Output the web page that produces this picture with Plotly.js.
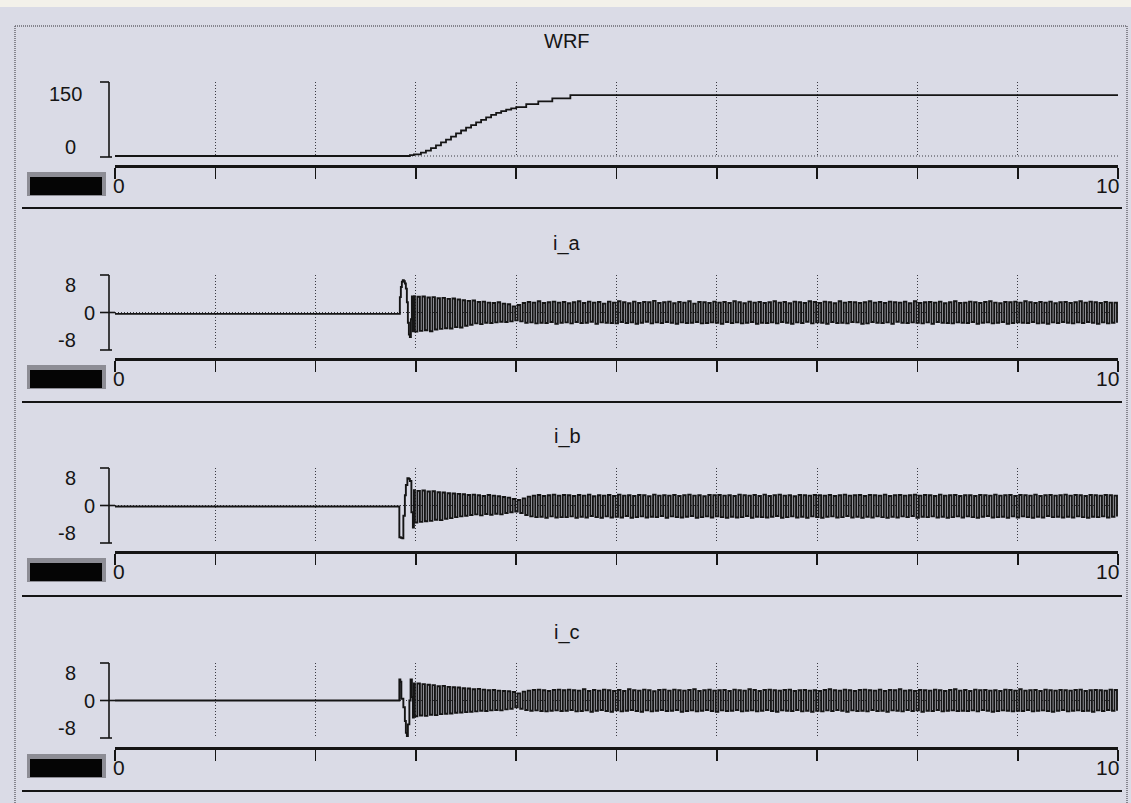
<!DOCTYPE html>
<html><head><meta charset="utf-8">
<script src="https://cdn.plot.ly/plotly-3.0.1.min.js"></script>
<style>html,body{margin:0;padding:0;background:#dadbe6;}#chart{width:1131px;height:803px;}</style>
</head><body><div id="chart"></div>
<script>
// ---------------- DATA ----------------
const panelTitles = ['WRF', 'i_a', 'i_b', 'i_c'];
const xTickLabels = ['0', '10'];
const xRange = [0, 10];
const wrfTickVals = [150, 0];
const currentTickVals = [8, 0, -8];

// WRF (speed reference) – staircase ramp
const wrfT = [0, 2.94, 2.98, 3.05, 3.1, 3.15, 3.2, 3.25, 3.3, 3.35, 3.4, 3.45, 3.5, 3.55, 3.6, 3.65, 3.7, 3.75, 3.8, 3.85, 3.9, 3.95, 4.0, 4.1, 4.22, 4.36, 4.54, 10];
const wrfV = [0, 2, 4, 8, 13, 19, 26, 33, 40, 47, 55, 62, 69, 75, 82, 88, 94, 100, 105, 109, 113, 116, 119, 126, 133, 140, 148, 148];

// start-up transients (explicit time / value)
const iaTransT = [0, 2.83, 2.84, 2.85, 2.86, 2.87, 2.88, 2.89, 2.9, 2.91, 2.92, 2.93, 2.94, 2.95, 2.96, 2.97, 2.98];
const iaTransV = [-0.4, -0.4, 4.5, 7.5, 9.0, 9.5, 9.2, 8.5, 7.0, 3.0, -3.0, -6.5, -7.2, -2.0, 4.7, -5.5, 4.8];
const ibTransT = [0, 2.83, 2.835, 2.85, 2.865, 2.875, 2.89, 2.9, 2.915, 2.93, 2.94, 2.955, 2.97, 2.98];
const ibTransV = [-0.3, -0.3, -9.3, -9.5, -9.6, -3, 3, 6, 8, 7.8, 7.2, -2, -6.5, 4.5];
const icTransT = [0, 2.83, 2.835, 2.845, 2.855, 2.875, 2.89, 2.9, 2.91, 2.92, 2.935, 2.947, 2.96, 2.97, 2.98];
const icTransV = [0, 0, 6.2, 5.5, 0.5, -2, -6, -9.5, -10.4, -7, 0, 6.2, 1, -5, 5];

// sampled oscillation after start-up: first sample time and sample spacing
const oscStart = 2.99;
const oscStep = 0.025;
const iaOsc = [
 -5.6,4.6,-5.4,4.7,-5.2,4.4,-5.5,4.5,-5.0,4.2,-4.8,4.3,-4.6,4.0,-4.7,4.1,-4.3,3.8,-4.4,
 3.6,-3.9,3.4,-3.6,3.5,-3.2,3.1,-3.4,3.2,-3.0,2.9,-3.1,2.8,-2.9,3.0,-2.7,2.6,-2.8,2.4,-2.6,
 1.8,-2.3,2.2,-2.6,2.8,-3.0,3.1,-2.9,2.9,-3.2,3.3,-3.0,2.8,-3.1,3.0,-2.8,3.2,-3.3,2.9,-3.0,
 3.1,-2.9,2.7,-3.2,3.0,-2.8,3.3,-3.1,2.8,-3.0,3.2,-2.7,2.9,-3.3,3.1,-2.9,2.6,-3.0,3.2,-3.1,
 2.9,-3.2,3.3,-2.8,3.0,-3.1,2.7,-2.9,3.2,-3.3,2.8,-3.0,3.1,-2.7,3.0,-3.2,3.4,-2.9,2.8,-3.1,
 3.0,-2.8,3.2,-3.0,2.7,-3.3,3.1,-2.9,2.9,-3.1,3.3,-3.0,2.6,-2.8,3.1,-3.2,3.0,-3.1,2.8,-2.9,
 3.2,-3.0,2.9,-3.3,3.1,-2.8,2.8,-3.1,3.3,-2.9,3.0,-3.2,2.7,-3.0,3.2,-2.8,2.9,-3.3,3.1,-3.0,
 2.8,-3.1,3.0,-2.9,3.3,-3.2,2.9,-2.8,3.1,-3.0,2.7,-3.3,3.2,-2.9,3.0,-3.1,2.8,-2.7,3.3,-3.2,
 3.1,-2.9,2.8,-3.0,3.2,-3.3,3.0,-2.8,2.7,-3.1,3.3,-3.0,2.9,-3.2,3.1,-2.8,3.0,-2.9,2.8,-3.3,
 3.0,-3.2,3.3,-2.8,2.9,-3.0,3.1,-3.1,2.8,-2.9,3.2,-3.3,3.0,-2.7,2.9,-3.0,3.2,-3.1,2.7,-2.9,
 3.3,-3.0,2.8,-3.2,3.0,-2.9,3.1,-3.3,2.9,-2.8,3.2,-3.0,2.7,-3.1,3.0,-3.2,3.3,-2.9,2.8,-3.0,
 2.9,-3.1,3.2,-2.8,3.0,-3.3,2.8,-3.0,3.1,-2.9,3.3,-3.2,2.9,-3.0,2.7,-2.8,3.1,-3.3,3.0,-3.1,
 3.2,-2.9,2.9,-3.0,3.3,-3.1,3.0,-2.8,2.8,-3.2,3.1,-3.0,2.9,-3.3,3.2,-2.9,2.7,-3.1,3.0,-2.8,
 3.1,-3.0,2.8,-3.2,3.0,-2.9,3.3,-3.1,2.9,-2.8,3.2,-3.0,3.0,-3.3,2.8,-2.9,3.1,-3.2,2.9,-3.0,
 2.9,-3.0];
const ibOsc = [
 -5.0,4.3,-4.8,4.4,-4.6,4.1,-4.5,4.2,-4.2,3.9,-4.3,3.8,-3.9,3.6,-3.7,3.5,-3.4,3.4,-3.2,3.3,
 -3.0,3.1,-2.8,3.2,-2.6,3.0,-2.9,2.8,-2.5,3.1,-2.7,2.9,-2.4,2.7,-2.6,2.5,-2.2,2.3,-2.0,1.9,
 -1.8,1.6,-2.2,2.1,-2.8,2.6,-3.2,2.9,-3.4,3.1,-3.3,2.8,-3.6,3.0,-3.2,3.2,-3.5,2.9,-3.4,3.1,
 -3.4,3.0,-3.2,2.8,-3.6,3.1,-3.3,2.9,-3.5,3.2,-3.1,2.7,-3.4,3.0,-3.6,2.9,-3.2,3.1,-3.5,2.8,
 -3.3,3.2,-3.5,2.9,-3.1,3.0,-3.6,2.8,-3.4,3.1,-3.2,3.0,-3.5,2.7,-3.3,3.2,-3.4,2.9,-3.1,3.0,
 -3.6,2.9,-3.2,3.1,-3.4,2.8,-3.5,3.0,-3.3,3.2,-3.1,2.9,-3.6,3.0,-3.4,2.7,-3.2,3.1,-3.5,3.0,
 -3.2,3.1,-3.4,2.9,-3.6,3.0,-3.3,2.8,-3.5,3.2,-3.4,3.0,-3.1,2.9,-3.6,3.1,-3.3,2.8,-3.4,3.2,
 -3.5,2.8,-3.3,3.0,-3.1,3.2,-3.6,2.9,-3.4,3.0,-3.2,2.7,-3.5,3.1,-3.3,3.0,-3.6,2.9,-3.2,3.1,
 -3.4,3.0,-3.6,2.9,-3.3,3.1,-3.2,2.8,-3.5,3.0,-3.4,3.2,-3.1,2.9,-3.5,3.0,-3.3,3.1,-3.6,2.8,
 -3.3,3.1,-3.5,3.0,-3.2,2.9,-3.4,3.2,-3.6,2.8,-3.3,3.0,-3.5,3.1,-3.2,2.9,-3.4,3.0,-3.1,3.2,
 -3.6,2.9,-3.3,3.1,-3.4,3.0,-3.2,2.8,-3.5,3.2,-3.3,2.9,-3.6,3.0,-3.4,3.1,-3.2,2.8,-3.5,3.0,
 -3.2,3.0,-3.4,2.8,-3.6,3.1,-3.3,3.0,-3.1,2.9,-3.5,3.2,-3.4,2.9,-3.3,3.0,-3.6,3.1,-3.2,2.8,
 -3.5,3.1,-3.2,3.0,-3.4,2.9,-3.6,3.2,-3.3,2.8,-3.5,3.0,-3.1,3.1,-3.4,2.9,-3.3,3.0,-3.5,3.2,
 -3.3,2.9,-3.5,3.1,-3.2,3.0,-3.4,2.8,-3.6,3.1,-3.3,3.0,-3.4,2.9,-3.2,3.1,-3.5,3.0,-3.3,2.9,
 -3.2];
const icOsc = [
 -4.6,5.0,-4.4,4.8,-4.5,4.6,-4.2,4.5,-4.3,4.2,-4.0,4.3,-3.9,4.0,-3.8,3.9,-3.6,3.8,-3.5,3.6,
 -3.4,3.5,-3.3,3.3,-3.2,3.4,-3.0,3.2,-3.1,3.0,-2.9,3.1,-2.8,2.9,-2.9,2.8,-2.6,2.7,-2.4,2.5,
 -2.0,2.1,-2.4,2.6,-2.8,2.9,-3.0,3.1,-2.9,3.2,-3.1,3.0,-3.2,2.8,-3.0,3.1,-2.9,3.2,-3.1,3.0,
 -3.0,3.2,-2.8,3.0,-3.2,2.9,-3.1,3.3,-2.9,2.8,-3.3,3.1,-3.0,2.9,-2.8,3.2,-3.1,3.0,-3.3,2.8,
 -2.9,3.1,-3.2,2.8,-3.0,3.3,-2.8,3.0,-3.1,2.9,-3.3,3.2,-2.9,3.0,-3.2,2.7,-3.0,3.1,-2.8,3.2,
 -3.1,2.9,-3.0,3.2,-2.8,3.0,-3.3,2.9,-3.1,3.1,-2.9,3.3,-3.2,2.8,-3.0,3.0,-2.8,3.2,-3.1,2.9,
 -3.3,3.0,-2.9,3.1,-3.1,2.8,-3.0,3.2,-2.8,3.0,-3.2,2.9,-3.0,3.3,-2.9,3.1,-3.2,2.8,-3.0,3.1,
 -2.8,3.2,-3.1,3.0,-3.3,2.9,-2.9,3.1,-3.0,3.2,-3.1,2.8,-2.8,3.0,-3.2,3.1,-3.0,2.9,-3.3,3.0,
 -3.0,2.8,-3.2,3.1,-2.9,3.3,-3.1,3.0,-2.8,2.9,-3.0,3.2,-3.3,3.0,-2.9,2.8,-3.1,3.1,-3.0,3.2,
 -3.2,3.0,-2.8,2.9,-3.1,3.2,-3.0,2.8,-3.3,3.1,-2.9,3.0,-3.0,3.3,-3.2,2.9,-2.8,3.0,-3.1,2.8,
 -2.9,3.1,-3.3,3.0,-3.0,2.9,-3.1,3.2,-2.8,3.0,-3.2,2.8,-3.0,3.1,-2.9,3.3,-3.1,2.9,-3.0,3.1,
 -3.1,2.8,-2.9,3.2,-3.2,3.0,-2.8,3.1,-3.0,2.9,-3.3,3.0,-3.1,2.8,-2.9,3.2,-3.0,3.1,-3.2,2.9,
 -3.0,3.3,-3.1,2.9,-2.8,3.0,-3.2,3.1,-3.0,2.8,-2.9,3.2,-3.1,3.0,-3.3,2.9,-3.0,3.1,-2.8,3.0,
 -3.2,2.9,-3.0,3.1,-2.9,3.2,-3.1,2.8,-3.0,3.0,-3.3,3.1,-2.9,3.0,-3.1,2.9,-2.8,3.2,-3.0,3.1,
 -3.0];

// ---------------- LAYOUT GEOMETRY (pixels) ----------------
const W = 1131, H = 803;
const px = v => v / W;
const py = v => 1 - v / H;
const plotLeft = 115, plotRight = 1118;
const panelTop = [82, 275, 468, 663];
const panelBot = [157, 350, 543, 738];
const barY = [166, 359, 552, 748];
const sepY = [208, 402, 596, 791];
const titleY = [41, 243, 437, 632];
const yRanges = [[-2.4, 180], [-11, 11], [-11, 11], [-11, 11]];
const ink = '#151515';
const fontFam = 'Liberation Sans, Arial, sans-serif';
const fs = 20;

function oscTimes(arr) { return arr.map((_, i) => +(oscStart + i * oscStep).toFixed(4)); }

const lineStyle = {color: ink, width: 1.9, shape: 'hv', simplify: false};
const traces = [
  {x: wrfT, y: wrfV, xaxis: 'x', yaxis: 'y', mode: 'lines', line: {color: ink, width: 1.8, shape: 'hv'}, hoverinfo: 'skip'},
  {x: iaTransT.concat(oscTimes(iaOsc)), y: iaTransV.concat(iaOsc), xaxis: 'x2', yaxis: 'y2', mode: 'lines', line: lineStyle, hoverinfo: 'skip'},
  {x: ibTransT.concat(oscTimes(ibOsc)), y: ibTransV.concat(ibOsc), xaxis: 'x3', yaxis: 'y3', mode: 'lines', line: lineStyle, hoverinfo: 'skip'},
  {x: icTransT.concat(oscTimes(icOsc)), y: icTransV.concat(icOsc), xaxis: 'x4', yaxis: 'y4', mode: 'lines', line: lineStyle, hoverinfo: 'skip'}
];

const layout = {
  width: W, height: H,
  margin: {l: 0, r: 0, t: 0, b: 0, pad: 0},
  paper_bgcolor: '#dadbe6', plot_bgcolor: 'rgba(0,0,0,0)',
  showlegend: false,
  font: {family: fontFam, color: ink, size: fs},
  shapes: [], annotations: []
};

// page furniture: top strip and dotted frame
layout.shapes.push({type: 'rect', xref: 'paper', yref: 'paper', x0: 0, x1: 1, y0: py(7), y1: 1, fillcolor: '#f3f1ea', line: {width: 0}, layer: 'below'});
const frameLine = {color: '#6a6a72', width: 1.5, dash: '1px,1px'};
layout.shapes.push({type: 'line', xref: 'paper', yref: 'paper', x0: px(15), x1: px(1127), y0: py(26), y1: py(26), line: frameLine});
layout.shapes.push({type: 'line', xref: 'paper', yref: 'paper', x0: px(15), x1: px(15), y0: py(26), y1: 0, line: frameLine});
layout.shapes.push({type: 'line', xref: 'paper', yref: 'paper', x0: px(1127), x1: px(1127), y0: py(26), y1: 0, line: frameLine});

for (let k = 0; k < 4; k++) {
  const s = k === 0 ? '' : String(k + 1);
  layout['xaxis' + s] = {
    domain: [px(plotLeft), px(plotRight)], range: xRange,
    anchor: 'free', position: py(barY[k]),
    showline: true, linewidth: 3, linecolor: ink,
    ticks: 'outside', ticklen: 11, tickwidth: 1.6, tickcolor: ink,
    tick0: 0, dtick: 1, showticklabels: false,
    showgrid: true, griddash: '1px,2px', gridcolor: '#3a3a42', gridwidth: 1,
    zeroline: false, fixedrange: true
  };
  layout['yaxis' + s] = {
    domain: [py(panelBot[k]), py(panelTop[k])], range: yRanges[k],
    anchor: 'x' + s, showline: false, showgrid: false, zeroline: false,
    showticklabels: false, ticks: '', fixedrange: true
  };
  const yr = 'y' + s;
  // dotted zero reference line
  layout.shapes.push({type: 'line', xref: 'x' + s + ' domain', x0: 0, x1: 1, yref: yr, y0: 0, y1: 0,
    line: {color: '#3a3a42', width: 1, dash: '1px,2px'}, layer: 'below'});
  // y-range bracket
  const br = {color: ink, width: 1.6};
  layout.shapes.push({type: 'line', xref: 'paper', x0: px(109), x1: px(109), yref: yr + ' domain', y0: 0, y1: 1, line: br});
  layout.shapes.push({type: 'line', xref: 'paper', x0: px(100), x1: px(109), yref: yr + ' domain', y0: 1, y1: 1, line: br});
  layout.shapes.push({type: 'line', xref: 'paper', x0: px(100), x1: px(112), yref: yr + ' domain', y0: 0, y1: 0, line: br});
  if (k > 0) layout.shapes.push({type: 'line', xref: 'paper', x0: px(100), x1: px(115), yref: yr, y0: 0, y1: 0, line: br});
  // separator under the panel
  layout.shapes.push({type: 'line', xref: 'paper', yref: 'paper', x0: px(22), x1: px(1122), y0: py(sepY[k]), y1: py(sepY[k]), line: {color: ink, width: 2.2}});
  // black indicator box with sunken grey edge
  layout.shapes.push({type: 'rect', xref: 'paper', yref: 'paper', x0: px(27), x1: px(106), y0: py(barY[k] + 30), y1: py(barY[k] + 6), fillcolor: '#8d8d95', line: {width: 0}});
  layout.shapes.push({type: 'rect', xref: 'paper', yref: 'paper', x0: px(30), x1: px(102), y0: py(barY[k] + 29), y1: py(barY[k] + 11), fillcolor: '#050505', line: {width: 0}});

  // panel title
  layout.annotations.push({text: panelTitles[k], xref: 'paper', yref: 'paper', x: px(567), y: py(titleY[k]),
    xanchor: 'center', yanchor: 'middle', showarrow: false, font: {size: fs, color: ink, family: fontFam}});
  // y tick labels
  const vals = k === 0 ? wrfTickVals : currentTickVals;
  vals.forEach(v => {
    let xr = 78, ys = 0;
    if (k === 0) { if (v !== 0) xr = 84; else ys = 9; }
    else if (v === 0) xr = 97;
    layout.annotations.push({text: String(v), xref: 'paper', yref: yr, x: px(xr), y: v, yshift: ys,
      xanchor: 'right', yanchor: 'middle', showarrow: false, font: {size: fs, color: ink, family: fontFam}});
  });
  // x tick labels at the ends
  layout.annotations.push({text: xTickLabels[0], xref: 'paper', yref: 'paper', x: px(111), y: py(barY[k] + 19),
    xanchor: 'left', yanchor: 'middle', showarrow: false, font: {size: 21, color: ink, family: fontFam}});
  layout.annotations.push({text: xTickLabels[1], xref: 'paper', yref: 'paper', x: px(1121), y: py(barY[k] + 19),
    xanchor: 'right', yanchor: 'middle', showarrow: false, font: {size: 21, color: ink, family: fontFam}});
}

Plotly.newPlot('chart', traces, layout, {staticPlot: true, displayModeBar: false});
</script>
</body></html>
